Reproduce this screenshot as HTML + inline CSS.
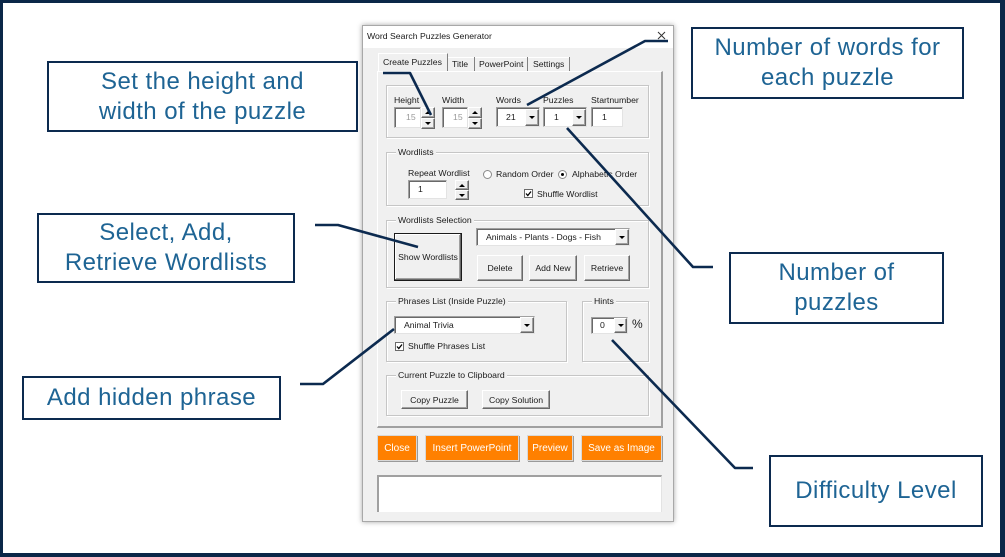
<!DOCTYPE html>
<html><head><meta charset="utf-8"><style>
*{margin:0;padding:0;box-sizing:border-box}
html,body{width:1005px;height:557px;overflow:hidden;background:#fff}
.a{position:absolute}
.t{position:absolute;font-family:"Liberation Sans",Arial,sans-serif;font-size:8.7px;line-height:10px;color:#1a1a1a;white-space:nowrap}
.co{position:absolute;border:2.5px solid #0c2a4f;background:#fff;display:flex;flex-direction:column;align-items:center;justify-content:center;font-family:"Liberation Sans",Arial,sans-serif;font-size:24px;line-height:30px;letter-spacing:0.45px;color:#1e6494;text-align:center;white-space:nowrap}
.grp{position:absolute;border:1px solid #c6c6c6;box-shadow:inset 1px 1px 0 #fff,1px 1px 0 #fff}
.lg{position:absolute;background:#f0f0f0;padding:0 2px;font-family:"Liberation Sans",Arial,sans-serif;font-size:8.7px;line-height:10px;color:#1a1a1a;white-space:nowrap}
.tb{position:absolute;background:#fff;border-top:1px solid #a0a0a0;border-left:1px solid #a0a0a0;border-right:1px solid #e3e3e3;border-bottom:1px solid #e3e3e3;box-shadow:inset 1px 1px 0 #696969}
.btn{position:absolute;background:#f0f0f0;border-top:1px solid #fff;border-left:1px solid #fff;border-right:1px solid #696969;border-bottom:1px solid #696969;box-shadow:inset -1px -1px 0 #a0a0a0;font-family:"Liberation Sans",Arial,sans-serif;font-size:8.7px;color:#1a1a1a;display:flex;align-items:center;justify-content:center;white-space:nowrap}
.dn{width:0;height:0;border-left:3px solid transparent;border-right:3px solid transparent;border-top:3px solid #000}
.up{width:0;height:0;border-left:3px solid transparent;border-right:3px solid transparent;border-bottom:3px solid #000}
.ob{position:absolute;background:#ff8000;border:1px solid #d8d8d8;box-shadow:1px 1px 0 #9a9a9a;color:#fff;font-family:"Liberation Sans",Arial,sans-serif;font-size:10px;display:flex;align-items:center;justify-content:center;white-space:nowrap}
</style></head><body>

<!-- outer frame -->
<div class="a" style="left:0;top:0;width:1005px;height:557px;border-top:3px solid #0b2748;border-left:3px solid #0b2748;border-right:5px solid #0b2748;border-bottom:4px solid #0b2748"></div>

<!-- callouts -->
<div class="co" style="left:47px;top:61px;width:311px;height:71px"><div>Set the height and</div><div>width of the puzzle</div></div>
<div class="co" style="left:691px;top:27px;width:273px;height:72px"><div>Number of words for</div><div>each puzzle</div></div>
<div class="co" style="left:729px;top:252px;width:215px;height:72px"><div>Number of</div><div>puzzles</div></div>
<div class="co" style="left:37px;top:213px;width:258px;height:70px"><div>Select, Add,</div><div>Retrieve Wordlists</div></div>
<div class="co" style="left:22px;top:376px;width:259px;height:44px"><div>Add hidden phrase</div></div>
<div class="co" style="left:769px;top:455px;width:214px;height:72px"><div>Difficulty Level</div></div>

<!-- dialog window -->
<div class="a" style="left:362px;top:25px;width:312px;height:497px;background:#f0f0f0;border:1px solid #a8a8a8;box-shadow:0 0 5px rgba(0,0,0,0.35)"></div>
<div class="a" style="left:363px;top:26px;width:310px;height:22px;background:#fff"></div>
<div class="t" style="left:367px;top:31px">Word Search Puzzles Generator</div>
<svg class="a" style="left:655px;top:29px" width="14" height="14"><path d="M3 3 L10 10 M10 3 L3 10" stroke="#333" stroke-width="1"/></svg>

<!-- tabs -->
<div class="a" style="left:378px;top:53px;width:70px;height:19px;border-top:1px solid #fff;border-left:1px solid #fff;border-right:1px solid #808080"></div>
<div class="a" style="left:448px;top:57px;width:121px;height:15px;border-top:1px solid #fff"></div>
<div class="a" style="left:474px;top:57px;width:1px;height:15px;background:#808080"></div>
<div class="a" style="left:527px;top:57px;width:1px;height:15px;background:#808080"></div>
<div class="a" style="left:569px;top:57px;width:1px;height:15px;background:#808080"></div>
<div class="t" style="left:383px;top:57px">Create Puzzles</div>
<div class="t" style="left:452px;top:59px">Title</div>
<div class="t" style="left:479px;top:59px">PowerPoint</div>
<div class="t" style="left:533px;top:59px">Settings</div>

<!-- tab page -->
<div class="a" style="left:377px;top:71px;width:286px;height:357px;border-top:1px solid #fff;border-left:1px solid #fff;border-right:2px solid #a0a0a0;border-bottom:2px solid #a0a0a0"></div>

<!-- group 1 -->
<div class="grp" style="left:386px;top:85px;width:263px;height:53px"></div>
<div class="t" style="left:394px;top:95px">Height</div>
<div class="t" style="left:442px;top:95px">Width</div>
<div class="t" style="left:496px;top:95px">Words</div>
<div class="t" style="left:543px;top:95px">Puzzles</div>
<div class="t" style="left:591px;top:95px">Startnumber</div>

<div class="tb" style="left:394px;top:107px;width:27px;height:21px"></div>
<div class="t" style="left:406px;top:112px;color:#9a9a9a">15</div>
<div class="btn" style="left:421px;top:107px;width:14px;height:11px"><div class="up"></div></div>
<div class="btn" style="left:421px;top:118px;width:14px;height:11px"><div class="dn"></div></div>

<div class="tb" style="left:442px;top:107px;width:26px;height:21px"></div>
<div class="t" style="left:453px;top:112px;color:#9a9a9a">15</div>
<div class="btn" style="left:468px;top:107px;width:14px;height:11px"><div class="up"></div></div>
<div class="btn" style="left:468px;top:118px;width:14px;height:11px"><div class="dn"></div></div>

<div class="tb" style="left:496px;top:107px;width:44px;height:20px"></div>
<div class="t" style="left:506px;top:112px">21</div>
<div class="btn" style="left:525px;top:109px;width:14px;height:17px"><div class="dn"></div></div>

<div class="tb" style="left:543px;top:107px;width:44px;height:20px"></div>
<div class="t" style="left:554px;top:112px">1</div>
<div class="btn" style="left:572px;top:109px;width:14px;height:17px"><div class="dn"></div></div>

<div class="tb" style="left:591px;top:107px;width:32px;height:20px"></div>
<div class="t" style="left:602px;top:112px">1</div>

<!-- group 2 Wordlists -->
<div class="grp" style="left:386px;top:152px;width:263px;height:54px"></div>
<div class="lg" style="left:396px;top:147px">Wordlists</div>
<div class="t" style="left:408px;top:168px">Repeat Wordlist</div>
<div class="tb" style="left:408px;top:180px;width:39px;height:19px"></div>
<div class="t" style="left:418px;top:184px">1</div>
<div class="btn" style="left:455px;top:180px;width:14px;height:10px"><div class="up"></div></div>
<div class="btn" style="left:455px;top:190px;width:14px;height:10px"><div class="dn"></div></div>
<div class="a" style="left:483px;top:170px;width:9px;height:9px;border-radius:50%;background:#fff;border:1px solid #8a8a8a"></div>
<div class="t" style="left:496px;top:169px">Random Order</div>
<div class="a" style="left:558px;top:170px;width:9px;height:9px;border-radius:50%;background:#fff;border:1px solid #8a8a8a"></div>
<div class="a" style="left:561px;top:173px;width:3px;height:3px;border-radius:50%;background:#000"></div>
<div class="t" style="left:572px;top:169px">Alphabetic Order</div>
<div class="a" style="left:524px;top:189px;width:9px;height:9px;background:#fff;border:1px solid #6a6a6a"></div>
<svg class="a" style="left:524px;top:189px" width="9" height="9"><path d="M2 4.5 L3.8 6.5 L7 2.5" stroke="#000" stroke-width="1.3" fill="none"/></svg>
<div class="t" style="left:537px;top:189px">Shuffle Wordlist</div>

<!-- group 3 Wordlists Selection -->
<div class="grp" style="left:386px;top:220px;width:263px;height:68px"></div>
<div class="lg" style="left:396px;top:215px">Wordlists Selection</div>
<div class="btn" style="left:394px;top:233px;width:68px;height:48px;border:1px solid #1a1a1a;box-shadow:inset -1px -1px 0 #696969,inset 1px 1px 0 #fff,inset -2px -2px 0 #a0a0a0">Show Wordlists</div>
<div class="tb" style="left:476px;top:228px;width:154px;height:18px"></div>
<div class="t" style="left:486px;top:232px">Animals - Plants - Dogs - Fish</div>
<div class="btn" style="left:615px;top:229px;width:14px;height:16px"><div class="dn"></div></div>
<div class="btn" style="left:477px;top:255px;width:46px;height:26px">Delete</div>
<div class="btn" style="left:529px;top:255px;width:48px;height:26px">Add New</div>
<div class="btn" style="left:584px;top:255px;width:46px;height:26px">Retrieve</div>

<!-- group 4 Phrases -->
<div class="grp" style="left:386px;top:301px;width:181px;height:61px"></div>
<div class="lg" style="left:396px;top:296px">Phrases List (Inside Puzzle)</div>
<div class="tb" style="left:394px;top:316px;width:141px;height:18px"></div>
<div class="t" style="left:404px;top:320px">Animal Trivia</div>
<div class="btn" style="left:520px;top:317px;width:14px;height:16px"><div class="dn"></div></div>
<div class="a" style="left:395px;top:342px;width:9px;height:9px;background:#fff;border:1px solid #6a6a6a"></div>
<svg class="a" style="left:395px;top:342px" width="9" height="9"><path d="M2 4.5 L3.8 6.5 L7 2.5" stroke="#000" stroke-width="1.3" fill="none"/></svg>
<div class="t" style="left:408px;top:341px">Shuffle Phrases List</div>

<!-- group 5 Hints -->
<div class="grp" style="left:582px;top:301px;width:67px;height:61px"></div>
<div class="lg" style="left:592px;top:296px">Hints</div>
<div class="tb" style="left:591px;top:317px;width:37px;height:17px"></div>
<div class="t" style="left:600px;top:320px">0</div>
<div class="btn" style="left:614px;top:318px;width:13px;height:15px"><div class="dn"></div></div>
<div class="a" style="left:632px;top:317px;font-family:'Liberation Sans',Arial,sans-serif;font-size:12px;line-height:14px;color:#1a1a1a">%</div>

<!-- group 6 Clipboard -->
<div class="grp" style="left:386px;top:375px;width:263px;height:41px"></div>
<div class="lg" style="left:396px;top:370px">Current Puzzle to Clipboard</div>
<div class="btn" style="left:401px;top:390px;width:67px;height:19px">Copy Puzzle</div>
<div class="btn" style="left:482px;top:390px;width:68px;height:19px">Copy Solution</div>

<!-- orange buttons -->
<div class="ob" style="left:377px;top:435px;width:40px;height:26px">Close</div>
<div class="ob" style="left:425px;top:435px;width:94px;height:26px">Insert PowerPoint</div>
<div class="ob" style="left:527px;top:435px;width:46px;height:26px">Preview</div>
<div class="ob" style="left:581px;top:435px;width:81px;height:26px">Save as Image</div>

<!-- bottom text box -->
<div class="a" style="left:377px;top:475px;width:285px;height:37px;background:#fff;border-top:2px solid #a0a0a0;border-left:2px solid #a0a0a0;border-right:1px solid #e3e3e3"></div>

<!-- connectors -->
<svg class="a" style="left:0;top:0" width="1005" height="557">
<g stroke="#0c2a4f" stroke-width="2.6" fill="none" stroke-linejoin="round">
<polyline points="383,73 410,73 431,115"/>
<polyline points="668,41 645,41 527,105"/>
<polyline points="567,128 693,267 713,267"/>
<polyline points="315,225 338,225 418,247"/>
<polyline points="300,384 323,384 394,329"/>
<polyline points="612,340 735,468 753,468"/>
</g>
</svg>
</body></html>
